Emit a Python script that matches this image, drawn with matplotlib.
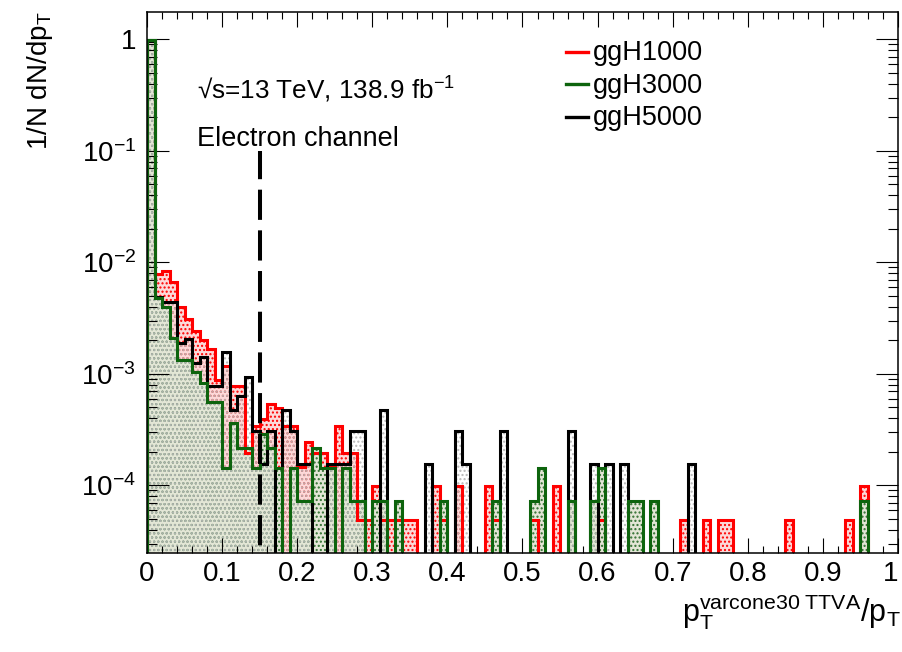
import numpy as np
import matplotlib
matplotlib.use('Agg')
import matplotlib.pyplot as plt
from matplotlib.ticker import FixedLocator, FuncFormatter, LogLocator, MultipleLocator, NullFormatter
from matplotlib.lines import Line2D

plt.rcParams['font.family'] = ['Liberation Sans', 'DejaVu Sans']
plt.rcParams['mathtext.fontset'] = 'custom'
plt.rcParams['mathtext.rm'] = 'Liberation Sans'
plt.rcParams['mathtext.it'] = 'Liberation Sans:italic'
plt.rcParams['mathtext.bf'] = 'Liberation Sans:bold'
plt.rcParams['mathtext.default'] = 'regular'
plt.rcParams['hatch.linewidth'] = 1.0

# ---------------- data ----------------
bin_edges = np.linspace(0.0, 1.0, 101)

ggH1000 = [0.96, 7.9e-3, 8.4e-3, 6.6e-3, 4.0e-3, 3.1e-3, 2.4e-3, 2.0e-3, 1.66e-3, 8.8e-4,
           1.18e-3, 7.8e-4, 7.8e-4, 1.96e-4, 3.4e-4, 3.9e-4, 5.4e-4, 4.9e-4, 3.43e-4, 3.43e-4,
           1.47e-4, 2.45e-4, 1.96e-4, 1.96e-4, 1.47e-4, 3.43e-4, 1.96e-4, 1.96e-4, 4.9e-5, 4.9e-5,
           9.8e-5, 4.9e-5, 4.9e-5, 4.9e-5, 4.9e-5, 4.9e-5, 0, 0, 9.8e-5, 4.9e-5,
           0, 9.8e-5, 0, 0, 0, 9.8e-5, 4.9e-5, 0, 0, 0,
           0, 4.9e-5, 0, 0, 9.8e-5, 0, 0, 0, 0, 0,
           4.9e-5, 0, 0, 0, 0, 0, 0, 0, 0, 0,
           0, 4.9e-5, 0, 0, 4.9e-5, 0, 4.9e-5, 4.9e-5, 0, 0,
           0, 0, 0, 0, 0, 4.9e-5, 0, 0, 0, 0,
           0, 0, 0, 4.9e-5, 0, 9.8e-5, 0, 0, 0, 0]

ggH3000 = [0.985, 4.8e-3, 4.0e-3, 2.1e-3, 1.33e-3, 1.33e-3, 1.04e-3, 8.3e-4, 5.6e-4, 5.6e-4,
           1.44e-4, 3.6e-4, 2.16e-4, 2.16e-4, 1.44e-4, 2.88e-4, 2.16e-4, 1.44e-4, 0, 1.44e-4,
           7.2e-5, 7.2e-5, 2.16e-4, 1.44e-4, 1.44e-4, 0, 1.44e-4, 7.2e-5, 7.2e-5, 0,
           7.2e-5, 7.2e-5, 0, 7.2e-5, 0, 0, 0, 0, 0, 7.2e-5,
           0, 0, 0, 0, 0, 0, 7.2e-5, 0, 0, 0,
           0, 7.2e-5, 1.44e-4, 0, 0, 0, 7.2e-5, 0, 0, 7.2e-5,
           1.44e-4, 0, 0, 0, 7.2e-5, 7.2e-5, 0, 7.2e-5, 0, 0,
           0, 0, 0, 0, 0, 0, 0, 0, 0, 0,
           0, 0, 0, 0, 0, 0, 0, 0, 0, 0,
           0, 0, 0, 0, 0, 7.2e-5, 0, 0, 0, 0]

ggH5000 = [0.975, 4.9e-3, 4.4e-3, 4.4e-3, 1.88e-3, 2.04e-3, 1.26e-3, 1.41e-3, 7.85e-4, 7.85e-4,
           1.57e-3, 4.7e-4, 6.3e-4, 9.4e-4, 3.1e-4, 1.57e-4, 3.1e-4, 0, 4.7e-4, 3.1e-4,
           1.57e-4, 1.57e-4, 0, 0, 1.57e-4, 1.57e-4, 1.57e-4, 3.1e-4, 3.1e-4, 0,
           0, 4.7e-4, 0, 0, 0, 0, 0, 1.57e-4, 0, 0,
           0, 3.1e-4, 1.57e-4, 0, 0, 0, 0, 3.1e-4, 0, 0,
           0, 0, 0, 0, 0, 0, 3.1e-4, 0, 0, 1.57e-4,
           0, 1.57e-4, 0, 1.57e-4, 0, 0, 0, 0, 0, 0,
           0, 0, 1.57e-4, 0, 0, 0, 0, 0, 0, 0,
           0, 0, 0, 0, 0, 0, 0, 0, 0, 0,
           0, 0, 0, 0, 0, 0, 0, 0, 0, 0]

labels = ['ggH1000', 'ggH3000', 'ggH5000']
cut_value = 0.15
cut_top = 0.1
x_ticks = [0, 0.1, 0.2, 0.3, 0.4, 0.5, 0.6, 0.7, 0.8, 0.9, 1]
x_tick_labels = ['0', '0.1', '0.2', '0.3', '0.4', '0.5', '0.6', '0.7', '0.8', '0.9', '1']
y_ticks = [1e-4, 1e-3, 1e-2, 1e-1, 1]

# ---------------- style ----------------
RED = '#ff0000'
GREEN = '#0d640d'
BLACK = '#000000'
YMIN, YMAX = 2.5e-5, 1.77
FLOOR = 1e-8

W, H = 903, 652
fig = plt.figure(figsize=(W / 100, H / 100), dpi=100)
ax = fig.add_axes([147 / W, 1 - 552.5 / H, (898 - 147) / W, (552.5 - 11.7) / H])
ax.set_yscale('log')

def floored(v):
    v = np.asarray(v, dtype=float)
    return np.where(v > 0, v, FLOOR)

series = [
    (ggH1000, RED, '#fcd9d9', RED, 1.0),
    (ggH3000, GREEN, '#e3e6d6', '#2f6f2f', 1.1),
    (ggH5000, BLACK, 'none', '#b8b8b8', 1.2),
]
for vals, lc, fc, hc, z in series:
    ax.stairs(floored(vals), bin_edges, baseline=FLOOR, fill=True,
              facecolor=fc, edgecolor=hc, hatch='....', linewidth=0, zorder=z)

line_z = {RED: 2.0, BLACK: 2.1, GREEN: 2.2}
for vals, lc, fc, hc, z in series:
    ax.stairs(floored(vals), bin_edges, baseline=FLOOR, fill=False,
              edgecolor=lc, linewidth=2.2, joinstyle='miter', zorder=line_z[lc])

ax.plot([cut_value, cut_value], [YMIN * 0.5, cut_top], color='black', lw=2.9,
        linestyle=(0, (7.5, 2.6)), zorder=2.5, clip_on=True)

ax.set_xlim(0, 1)
ax.set_ylim(YMIN, YMAX)

ax.xaxis.set_major_locator(FixedLocator(x_ticks))
ax.set_xticklabels(x_tick_labels)
ax.xaxis.set_minor_locator(MultipleLocator(0.02))
ax.yaxis.set_major_locator(FixedLocator(y_ticks))
ax.yaxis.set_minor_locator(LogLocator(base=10, subs=np.arange(2, 10)))
ax.yaxis.set_minor_formatter(NullFormatter())

def yfmt(v, pos):
    e = int(round(np.log10(v)))
    if e == 0:
        return '1'
    return r'$10^{%d}$' % e

ax.yaxis.set_major_formatter(FuncFormatter(yfmt))

ax.tick_params(axis='both', which='both', direction='in', top=True, right=True,
               width=0.8, labelsize=20, colors='black')
ax.tick_params(axis='x', which='major', length=10.8, pad=6)
ax.tick_params(axis='x', which='minor', length=5.0)
ax.tick_params(axis='y', which='major', length=15.8, pad=8)
ax.tick_params(axis='y', which='minor', length=7.5)
for s in ax.spines.values():
    s.set_linewidth(1.1)
xlabs = ax.get_xticklabels()
xlabs[-1].set_horizontalalignment('right')

# axis titles
fig.text(40 / W, 1 - 11 / H, r'1/N dN/dp$_{T}$', rotation=90, ha='center', va='top', fontsize=20)
fig.text(901 / W, 1 - 621 / H, r'$p_{T}^{varcone30\ TTVA}/p_{T}$', ha='right', va='baseline', fontsize=22)

# annotations
fig.text(197 / W, 1 - 99 / H, '\u221as=13 TeV, 138.9 fb$^{-1}$', ha='left', va='baseline', fontsize=18.8)
fig.text(197 / W, 1 - 146.5 / H, 'Electron channel', ha='left', va='baseline', fontsize=19.5)

# legend
for i, (lab, col) in enumerate(zip(labels, [RED, GREEN, BLACK])):
    yl = 51.7 + 32.5 * i
    fig.add_artist(Line2D([566 / W, 588 / W], [1 - yl / H, 1 - yl / H], color=col, lw=2.4,
                          transform=fig.transFigure))
    fig.text(593 / W, 1 - (yl + 8.5) / H, lab, ha='left', va='baseline', fontsize=19.5)

fig.savefig('out.png', dpi=100)
